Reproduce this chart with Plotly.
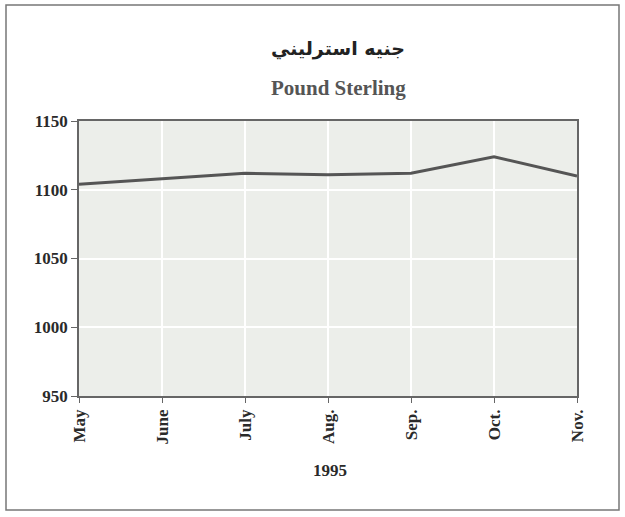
import plotly.graph_objects as go

# === data ===
months = ["May", "June", "July", "Aug.", "Sep.", "Oct.", "Nov."]
rates = [1104, 1108, 1112, 1111, 1112, 1124, 1110]
y_ticks = [950, 1000, 1050, 1100, 1150]

serif = "Liberation Serif, Times New Roman, serif"
ink = "#2a2a2a"

fig = go.Figure()
fig.add_trace(go.Scatter(
    x=months, y=rates,
    mode="lines",
    line=dict(color="#555555", width=3),
    showlegend=False,
))

# plot area in pixels: left 79, right 577, top 121, bottom 396
W, H = 625, 517
L, R, T, B = 79, 48, 121, 121
pw, ph = W - L - R, H - T - B

def px(x):
    return (x - L) / pw

def py(y):
    return (H - B - y) / ph

fig.update_layout(
    width=W, height=H,
    margin=dict(l=L, r=R, t=T, b=B, autoexpand=False),
    paper_bgcolor="white",
    plot_bgcolor="#eceeea",
    font=dict(family=serif, color=ink),
    xaxis=dict(
        type="category",
        range=[0, len(months) - 1],
        tickangle=-90,
        tickfont=dict(size=17, family=serif, color=ink, weight="bold"),
        showgrid=True, gridcolor="white", gridwidth=2,
        showline=True, linecolor="#666666", linewidth=1.5, mirror=True,
        ticks="outside", ticklen=5, tickcolor="#666666",
    ),
    yaxis=dict(
        range=[950, 1150],
        tickvals=y_ticks,
        tickfont=dict(size=17, family=serif, color=ink, weight="bold"),
        showgrid=True, gridcolor="white", gridwidth=2,
        showline=True, linecolor="#666666", linewidth=1.5, mirror=True,
        ticks="outside", ticklen=6, tickcolor="#666666",
        zeroline=False,
    ),
    annotations=[
        dict(text="جنيه استرليني", xref="paper", yref="paper",
             x=px(338), y=py(48), yanchor="middle", showarrow=False,
             font=dict(size=19, family="DejaVu Sans", color="#222222", weight="bold")),
        dict(text="Pound Sterling", xref="paper", yref="paper",
             x=px(338), y=py(88), yanchor="middle", showarrow=False,
             font=dict(size=21, family=serif, color="#555555", weight="bold")),
        dict(text="1995", xref="paper", yref="paper",
             x=px(330), y=py(470), yanchor="middle", showarrow=False,
             font=dict(size=17, family=serif, color=ink, weight="bold")),
    ],
    shapes=[
        dict(type="rect", xref="paper", yref="paper",
             x0=px(6), x1=px(619), y0=py(510), y1=py(5),
             line=dict(color="#777777", width=1.5), layer="below"),
    ],
)

# page body has a default margin; remove it so the figure sits at the window origin
fig.write_html("out.html", config={"displayModeBar": False},
               post_script="document.body.style.margin='0';")
